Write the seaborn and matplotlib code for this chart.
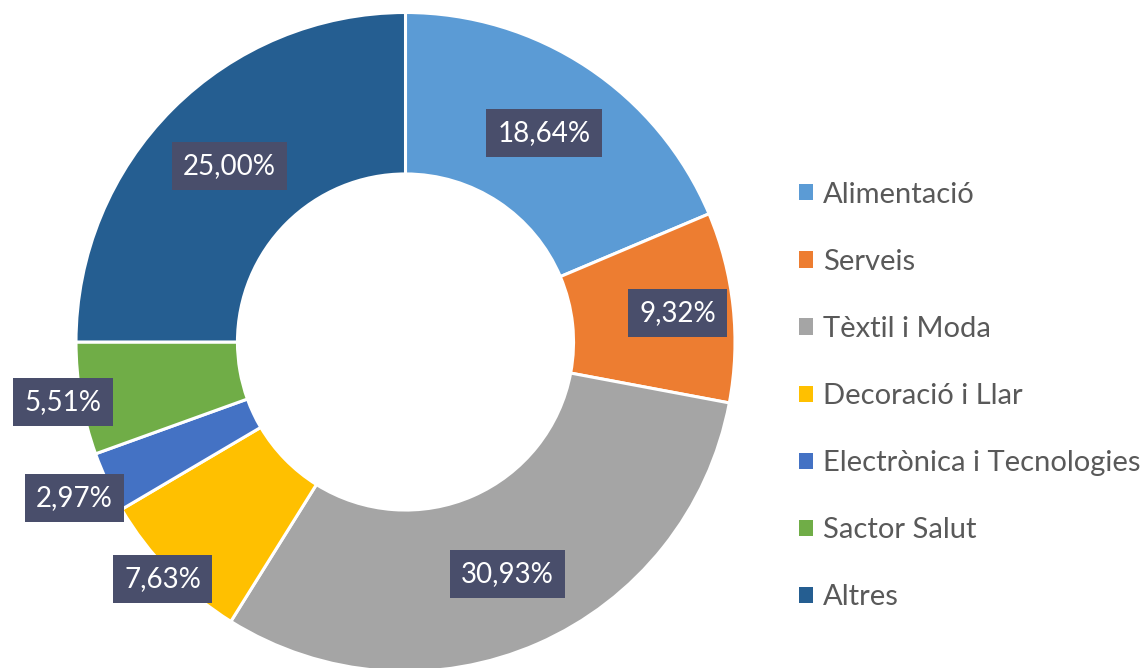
import numpy as np
import matplotlib
matplotlib.use("Agg")
import matplotlib.pyplot as plt
import seaborn as sns

categories = ["Alimentació", "Serveis", "Tèxtil i Moda", "Decoració i Llar",
              "Electrònica i Tecnologies", "Sactor Salut", "Altres"]
values = [18.64, 9.32, 30.93, 7.63, 2.97, 5.51, 25.00]
colors = ["#5B9BD5", "#ED7D31", "#A5A5A5", "#FFC000", "#4472C4", "#70AD47", "#255E91"]
# label radial position (fraction of outer radius)
label_r = [0.76, 0.83, 0.77, 1.03, 1.11, 1.055, 0.757]

sns.set_theme(style="white")
plt.rcParams['font.family'] = ['Lato', 'DejaVu Sans']

W, H = 1147, 668
fig = plt.figure(figsize=(W / 100, H / 100), dpi=100)
ax = fig.add_axes([0, 0, 1, 1])

cx, cy, R = 405.5, 342, 329.5
wedges, _ = ax.pie(values, colors=colors, startangle=90, counterclock=False,
                   radius=1.0,
                   wedgeprops=dict(width=0.49, edgecolor="white", linewidth=2.2))
ax.set_aspect("auto")
ax.set_xlim(-cx / R, (W - cx) / R)
ax.set_ylim(-(H - cy) / R, cy / R)
ax.axis("off")

total = sum(values)
cum = 0.0
for v, r in zip(values, label_r):
    mid = (cum + v / 2) / total
    cum += v
    ang = np.deg2rad(90 - 360 * mid)
    x, y = r * np.cos(ang), r * np.sin(ang)
    ax.text(x, y, f"{v:.2f}%".replace(".", ","), ha="center", va="center",
            fontsize=20, color="white",
            bbox=dict(boxstyle="square,pad=0.4", facecolor="#494E6B", edgecolor="none"))

fs = 21
leg = fig.legend(wedges, categories, loc="center left",
                 bbox_to_anchor=(799 / W, 1 - 396 / H), frameon=False,
                 fontsize=fs, handlelength=0.48, handleheight=0.48,
                 handletextpad=0.34, labelspacing=1.41, borderpad=0, borderaxespad=0)
for t in leg.get_texts():
    t.set_color("#595959")
for h in leg.legend_handles:
    h.set_edgecolor("none")
    h.set_linewidth(0)

fig.savefig("out.png", dpi=100)
